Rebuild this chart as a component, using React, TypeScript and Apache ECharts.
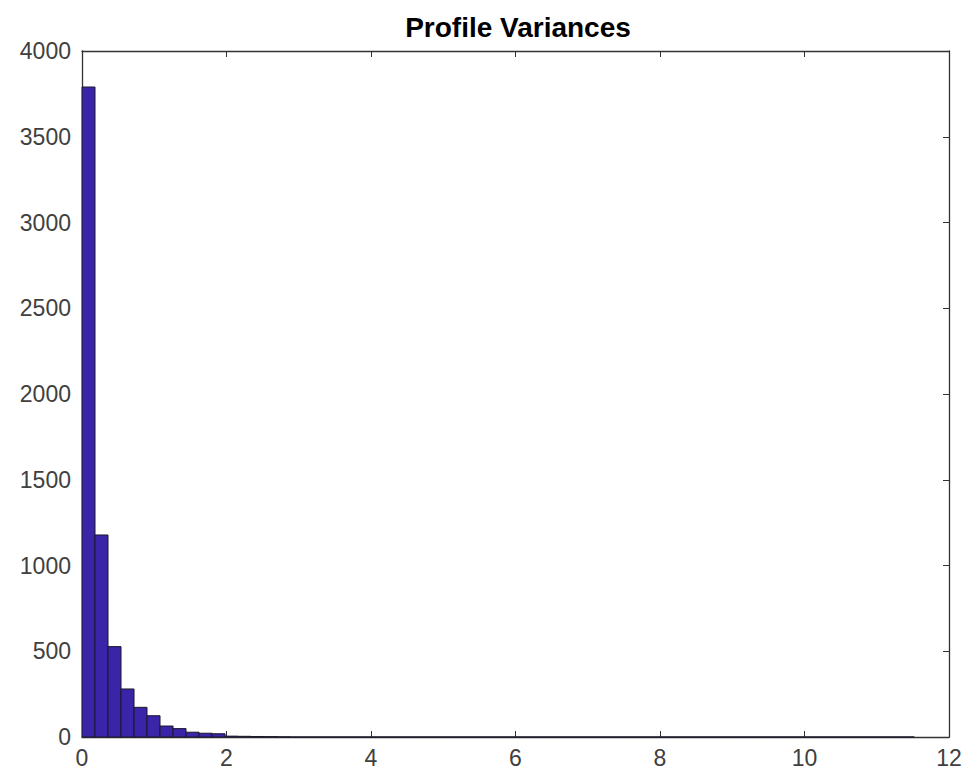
import React, { useEffect, useRef } from "react";
import * as echarts from "echarts";

const title = "Profile Variances";
const binWidth = 0.18;
const counts: number[] = [
  3790, 1178, 527, 280, 173, 124, 64, 49, 28, 22, 19, 5, 4, 3, 2, 1,
  0, 0, 0, 0, 0, 0, 0, 0, 0, 0, 0, 0, 0, 0, 0, 0,
  0, 0, 0, 0, 0, 0, 0, 0, 0, 0, 0, 0, 0, 0, 0, 0,
  0, 0, 0, 0, 0, 0, 0, 0, 0, 0, 0, 0, 0, 0, 0, 0,
];
const xTicks = [0, 2, 4, 6, 8, 10, 12];
const yTicks = [0, 500, 1000, 1500, 2000, 2500, 3000, 3500, 4000];

export default function App() {
  const ref = useRef<HTMLDivElement>(null);
  useEffect(() => {
    if (!ref.current) return;
    const chart = echarts.init(ref.current, undefined, { renderer: "svg" });
    const data = counts.map((c, i) => [i * binWidth, (i + 1) * binWidth, c]);
    const font = "'Liberation Sans', Arial, Helvetica, sans-serif";
    const axisLine = { show: true, onZero: false, lineStyle: { color: "#333333", width: 1.3 } };
    const tick = { show: true, inside: true, length: 6, lineStyle: { color: "#333333" } };
    const fmt = (v: number) => String(v);
    chart.setOption({
      animation: false,
      backgroundColor: "#ffffff",
      title: {
        text: title,
        left: 513,
        textAlign: "center",
        top: 8,
        textStyle: { fontFamily: font, fontSize: 28, fontWeight: "bold", color: "#000000" },
      },
      grid: { left: 82, right: 19, top: 51, bottom: 43 },
      xAxis: [
        {
          type: "value",
          min: xTicks[0],
          max: xTicks[xTicks.length - 1],
          interval: 2,
          position: "bottom",
          axisLine,
          axisTick: tick,
          splitLine: { show: false },
          axisLabel: { fontFamily: font, fontSize: 23, color: "#404040", margin: 9, formatter: fmt },
        },
        {
          type: "value",
          min: xTicks[0],
          max: xTicks[xTicks.length - 1],
          interval: 2,
          position: "top",
          axisLine,
          axisTick: tick,
          splitLine: { show: false },
          axisLabel: { show: false },
        },
      ],
      yAxis: [
        {
          type: "value",
          min: yTicks[0],
          max: yTicks[yTicks.length - 1],
          interval: 500,
          position: "left",
          axisLine,
          axisTick: tick,
          splitLine: { show: false },
          axisLabel: { fontFamily: font, fontSize: 23, color: "#404040", margin: 11, formatter: fmt },
        },
        {
          type: "value",
          min: yTicks[0],
          max: yTicks[yTicks.length - 1],
          interval: 500,
          position: "right",
          axisLine,
          axisTick: tick,
          splitLine: { show: false },
          axisLabel: { show: false },
        },
      ],
      series: [
        {
          type: "custom",
          xAxisIndex: 0,
          yAxisIndex: 0,
          data,
          encode: { x: [0, 1], y: 2 },
          renderItem: (params: any, api: any) => {
            const p0 = api.coord([api.value(0), api.value(2)]);
            const p1 = api.coord([api.value(1), 0]);
            return {
              type: "rect",
              shape: { x: p0[0], y: p0[1], width: p1[0] - p0[0], height: p1[1] - p0[1] },
              style: { fill: "#3a24a8", stroke: "#1a1a2a", lineWidth: 1 },
            };
          },
        },
      ],
    });
    return () => chart.dispose();
  }, []);
  return (
    <div
      ref={ref}
      style={{ position: "absolute", left: 0, top: 0, width: 968, height: 780 }}
    />
  );
}
